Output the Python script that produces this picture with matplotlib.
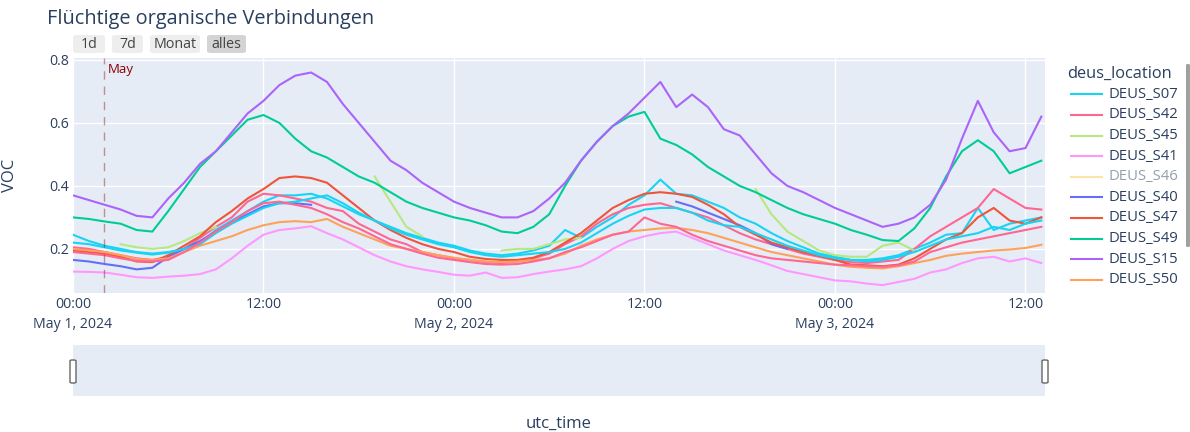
import numpy as np
import pandas as pd
import matplotlib
matplotlib.use("Agg")
import matplotlib.pyplot as plt
from matplotlib.patches import FancyBboxPatch
from matplotlib.lines import Line2D

nan = np.nan

# hourly VOC readings, May 1 00:00 .. May 3 13:00 (utc)
start = "2024-05-01 00:00"
n_hours = 62

S07 = [0.245, 0.225, 0.21, 0.20, 0.19, 0.185, 0.19, 0.20, 0.22, 0.26,
       0.29, 0.32, 0.35, 0.37, 0.37, 0.375, 0.36, 0.335, 0.31, 0.29,
       0.27, 0.25, 0.235, 0.22, 0.21, 0.195, 0.185, 0.18, 0.185, 0.195,
       0.21, 0.26, 0.235, 0.27, 0.30, 0.34, 0.37, 0.42, 0.375, 0.37,
       0.35, 0.33, 0.30, 0.28, 0.25, 0.225, 0.205, 0.185, 0.175, 0.165,
       0.165, 0.17, 0.18, 0.20, 0.22, 0.245, 0.25, 0.33, 0.26, 0.28,
       0.29, 0.30]
S42 = [0.205, 0.20, 0.19, 0.18, 0.17, 0.165, 0.175, 0.20, 0.235, 0.27,
       0.30, 0.35, 0.375, 0.37, 0.36, 0.35, 0.33, 0.32, 0.28, 0.255,
       0.23, 0.215, 0.19, 0.18, 0.17, 0.165, 0.158, 0.155, 0.16, 0.17,
       0.185, 0.215, 0.24, 0.28, 0.31, 0.33, 0.34, 0.345, 0.33, 0.315,
       0.30, 0.275, 0.25, 0.23, 0.215, 0.20, 0.185, 0.175, 0.165, 0.158,
       0.155, 0.16, 0.165, 0.20, 0.24, 0.27, 0.30, 0.33, 0.39, 0.36,
       0.33, 0.325]
S45 = [nan, nan, nan, 0.215, 0.205, 0.20, 0.205, 0.225, 0.25, 0.27,
       nan, nan, nan, nan, nan, nan, nan, nan, nan, 0.43,
       0.35, 0.27, 0.24, nan, nan, nan, nan, 0.195, 0.20, 0.20,
       0.215, 0.23, 0.235, nan, nan, nan, nan, nan, nan, nan,
       nan, nan, nan, 0.39, 0.31, 0.255, 0.225, 0.195, 0.18, 0.175,
       0.175, 0.21, 0.22, 0.195, nan, nan, nan, nan, nan, nan,
       nan, nan]
S41 = [0.128, 0.127, 0.125, 0.118, 0.11, 0.108, 0.112, 0.115, 0.12, 0.135,
       0.17, 0.21, 0.245, 0.26, 0.265, 0.272, 0.25, 0.23, 0.205, 0.18,
       0.16, 0.145, 0.135, 0.127, 0.118, 0.115, 0.125, 0.108, 0.11, 0.12,
       0.128, 0.135, 0.145, 0.17, 0.20, 0.225, 0.24, 0.25, 0.255, 0.235,
       0.215, 0.195, 0.18, 0.165, 0.148, 0.13, 0.12, 0.11, 0.10, 0.097,
       0.09, 0.085, 0.095, 0.105, 0.125, 0.135, 0.155, 0.17, 0.175, 0.16,
       0.17, 0.155]
S46 = [nan] * n_hours  # hidden in the legend (legendonly)
S40 = [0.165, 0.16, 0.152, 0.145, 0.135, 0.14, 0.175, 0.20, 0.225, 0.255,
       0.285, 0.31, 0.335, 0.345, 0.345, 0.34] + [nan] * 22 + \
      [0.35, 0.335, 0.315, 0.295, 0.275, 0.25, 0.215, 0.20] + [nan] * 16
S47 = [0.195, 0.19, 0.185, 0.175, 0.16, 0.158, 0.18, 0.21, 0.24, 0.285,
       0.32, 0.36, 0.39, 0.425, 0.43, 0.425, 0.41, 0.37, 0.33, 0.29,
       0.26, 0.235, 0.215, 0.20, 0.19, 0.175, 0.168, 0.165, 0.165, 0.172,
       0.19, 0.22, 0.25, 0.29, 0.33, 0.355, 0.375, 0.38, 0.375, 0.365,
       0.34, 0.31, 0.27, 0.245, 0.22, 0.205, 0.19, 0.178, 0.165, 0.15,
       0.148, 0.145, 0.15, 0.17, 0.20, 0.23, 0.25, 0.30, 0.33, 0.29,
       0.28, 0.30]
S49 = [0.30, 0.295, 0.287, 0.28, 0.26, 0.255, 0.32, 0.39, 0.46, 0.51,
       0.56, 0.61, 0.625, 0.60, 0.55, 0.51, 0.49, 0.46, 0.43, 0.41,
       0.38, 0.35, 0.33, 0.315, 0.30, 0.29, 0.275, 0.255, 0.25, 0.27,
       0.31, 0.40, 0.48, 0.54, 0.59, 0.62, 0.635, 0.55, 0.53, 0.50,
       0.46, 0.43, 0.40, 0.38, 0.355, 0.33, 0.31, 0.295, 0.28, 0.26,
       0.245, 0.228, 0.225, 0.265, 0.33, 0.43, 0.51, 0.545, 0.51, 0.44,
       0.46, 0.48]
S15 = [0.37, 0.355, 0.34, 0.325, 0.305, 0.30, 0.36, 0.41, 0.47, 0.51,
       0.57, 0.63, 0.67, 0.72, 0.75, 0.76, 0.73, 0.66, 0.60, 0.54,
       0.48, 0.45, 0.41, 0.38, 0.35, 0.33, 0.315, 0.30, 0.30, 0.32,
       0.36, 0.41, 0.48, 0.54, 0.59, 0.63, 0.68, 0.73, 0.65, 0.69,
       0.65, 0.58, 0.56, 0.50, 0.44, 0.40, 0.38, 0.355, 0.33, 0.31,
       0.29, 0.27, 0.28, 0.30, 0.34, 0.42, 0.55, 0.67, 0.57, 0.51,
       0.52, 0.62]
S50 = [0.20, 0.195, 0.19, 0.18, 0.168, 0.165, 0.17, 0.19, 0.21, 0.225,
       0.24, 0.26, 0.275, 0.285, 0.288, 0.285, 0.295, 0.27, 0.25, 0.23,
       0.21, 0.20, 0.19, 0.18, 0.172, 0.165, 0.16, 0.158, 0.16, 0.165,
       0.17, 0.185, 0.21, 0.23, 0.245, 0.255, 0.26, 0.265, 0.267, 0.26,
       0.25, 0.235, 0.22, 0.205, 0.19, 0.18, 0.17, 0.16, 0.15, 0.143,
       0.14, 0.138, 0.145, 0.155, 0.165, 0.178, 0.185, 0.19, 0.195, 0.198,
       0.203, 0.213]
# two more sensors further down the (scrolled) legend
extra_cyan = [0.22, 0.215, 0.205, 0.195, 0.188, 0.182, 0.188, 0.20, 0.215, 0.25,
              0.28, 0.305, 0.33, 0.345, 0.35, 0.36, 0.37, 0.345, 0.315, 0.29,
              0.265, 0.245, 0.23, 0.215, 0.205, 0.19, 0.18, 0.175, 0.18, 0.185,
              0.19, 0.20, 0.22, 0.25, 0.28, 0.305, 0.325, 0.33, 0.33, 0.315,
              0.29, 0.275, 0.27, 0.25, 0.23, 0.21, 0.195, 0.18, 0.17, 0.165,
              0.16, 0.165, 0.175, 0.19, 0.21, 0.23, 0.24, 0.25, 0.27, 0.26,
              0.28, 0.29]
extra_pink = [0.19, 0.185, 0.18, 0.17, 0.162, 0.16, 0.165, 0.19, 0.22, 0.255,
              0.285, 0.32, 0.345, 0.35, 0.34, 0.33, 0.31, 0.285, 0.265, 0.24,
              0.215, 0.20, 0.185, 0.172, 0.165, 0.158, 0.152, 0.15, 0.152, 0.16,
              0.17, 0.19, 0.205, 0.225, 0.245, 0.255, 0.30, 0.28, 0.27, 0.245,
              0.225, 0.21, 0.195, 0.18, 0.17, 0.165, 0.16, 0.155, 0.15, 0.148,
              0.145, 0.143, 0.148, 0.16, 0.19, 0.205, 0.22, 0.23, 0.24, 0.25,
              0.26, 0.27]

locations = ["DEUS_S07", "DEUS_S42", "DEUS_S45", "DEUS_S41", "DEUS_S46",
             "DEUS_S40", "DEUS_S47", "DEUS_S49", "DEUS_S15", "DEUS_S50"]
values = [S07, S42, S45, S41, S46, S40, S47, S49, S15, S50]
colors = ["#19D3F3", "#FF6692", "#B6E880", "#FF97FF", "#FECB52",
          "#636EFA", "#EF553B", "#00CC96", "#AB63FA", "#FFA15A"]
hidden = ["DEUS_S46"]

yticks = [0.2, 0.4, 0.6, 0.8]
buttons = ["1d", "7d", "Monat", "alles"]

times = pd.date_range(start, periods=n_hours, freq="h")
df = pd.DataFrame(dict(zip(locations, values)), index=times)
df["extra_cyan"] = extra_cyan
df["extra_pink"] = extra_pink

W, H = 1190, 432
plt.rcParams['font.family'] = ['Open Sans', 'DejaVu Sans']
txt = "#2a3f5f"

def fx(x):
    return x / W

def fy(y):
    return 1 - y / H

fig = plt.figure(figsize=(W / 100, H / 100), dpi=100)
ax = fig.add_axes([fx(73), fy(293), 972 / W, 235 / H])
ax.set_facecolor("#E5ECF6")

for name, c in zip(locations, colors):
    if name in hidden:
        continue
    ax.plot(df.index, df[name], color=c, lw=1.5)
ax.plot(df.index, df["extra_cyan"], color="#19D3F3", lw=1.5)
ax.plot(df.index, df["extra_pink"], color="#FF6692", lw=1.5)

t0 = pd.Timestamp(start)
ax.set_xlim(t0, t0 + pd.Timedelta(hours=61.23))
ax.set_ylim(0.06, 0.806)
ax.set_yticks(yticks)
ax.set_yticklabels([f"{v:.1f}" for v in yticks])
xt = [t0 + pd.Timedelta(hours=h) for h in (0, 12, 24, 36, 48, 60)]
ax.set_xticks(xt)
ax.set_xticklabels(["00:00\nMay 1, 2024", "12:00", "00:00\nMay 2, 2024",
                    "12:00", "00:00\nMay 3, 2024", "12:00"], linespacing=1.4,
                   va="top")
ax.grid(color="white", lw=1)
ax.set_axisbelow(True)
for s in ax.spines.values():
    s.set_visible(False)
ax.tick_params(length=0, labelsize=10.2, colors=txt, pad=3)
ax.set_ylabel("VOC", fontsize=12, color=txt)
ax.yaxis.set_label_coords((18 - 73) / 972, 0.5)

# month marker
may = t0 + pd.Timedelta(minutes=117)
ax.axvline(may, color="#8B0000", alpha=0.4, lw=1, ls=(0, (6, 5)))
ax.text(may + pd.Timedelta(minutes=15), 0.79, "May", color="#8B0000",
        fontsize=9.5, va="top", ha="left")

fig.text(fx(47), fy(19), "Flüchtige organische Verbindungen", fontsize=14.3,
         color=txt, va="center", ha="left")

# range selector buttons
bx = [(73, 105), (112, 143), (150, 200), (207, 246)]
for (x0, x1), lab in zip(bx, buttons):
    fc = "#D4D4D4" if lab == "alles" else "#EEEEEE"
    fig.patches.append(FancyBboxPatch((fx(x0), fy(53)), (x1 - x0) / W, 18 / H,
                                      boxstyle="round,pad=0,rounding_size=0.004",
                                      transform=fig.transFigure, fc=fc, ec="none"))
    fig.text(fx((x0 + x1) / 2), fy(44), lab, fontsize=10.3, color="#444444",
             ha="center", va="center")

# range slider
sl = fig.add_axes([fx(73), fy(396), 972 / W, 51 / H])
sl.set_facecolor("#E5ECF6")
sl.set_xticks([])
sl.set_yticks([])
for s in sl.spines.values():
    s.set_visible(False)
for xh in (73, 1045):
    fig.patches.append(FancyBboxPatch((fx(xh - 3), fy(383)), 6 / W, 23 / H,
                                      boxstyle="round,pad=0,rounding_size=0.002",
                                      transform=fig.transFigure, fc="white",
                                      ec="#666666", lw=1))

fig.text(fx(559), fy(424), "utc_time", fontsize=12, color=txt,
         ha="center", va="center")

# legend
fig.text(fx(1067), fy(74), "deus_location", fontsize=11.8, color=txt,
         ha="left", va="center")
for i, (name, c) in enumerate(zip(locations, colors)):
    yy = 94.3 + i * 20.6
    a = 0.5 if name in hidden else 1.0
    fig.add_artist(Line2D([fx(1071), fx(1102)], [fy(yy), fy(yy)], color=c,
                          lw=1.5, alpha=a, transform=fig.transFigure))
    fig.text(fx(1109), fy(yy), name, fontsize=10.7, color=txt, alpha=a,
             ha="left", va="center")
fig.patches.append(FancyBboxPatch((fx(1186), fy(247)), 4 / W, 183 / H,
                                  boxstyle="round,pad=0,rounding_size=0.002",
                                  transform=fig.transFigure, fc="#888888",
                                  ec="none", alpha=0.8))

fig.savefig("out.png", dpi=100, facecolor="white")
